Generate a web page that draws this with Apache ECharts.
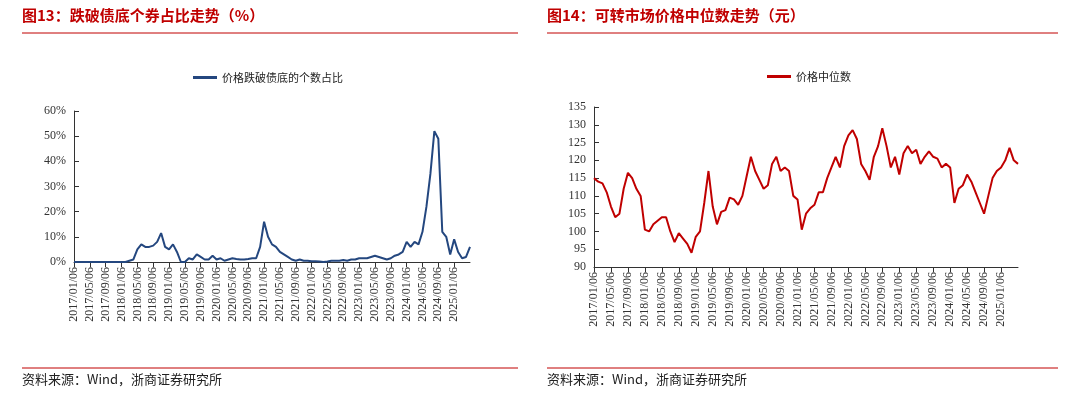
<!DOCTYPE html>
<html><head><meta charset="utf-8">
<script src="https://cdn.jsdelivr.net/npm/echarts@6/dist/echarts.min.js"></script>
<style>html,body{margin:0;padding:0;background:#fff}#c{width:1080px;height:418px}</style>
</head><body><div id="c"></div>
<script>
const leftTitle = "图13：跌破债底个券占比走势（%）";
const rightTitle = "图14：可转市场价格中位数走势（元）";
const source = "资料来源：Wind，浙商证券研究所";
const leftSeriesName = "价格跌破债底的个数占比";
const rightSeriesName = "价格中位数";
const leftTicks = [0, 10, 20, 30, 40, 50, 60];
const rightTicks = [90, 95, 100, 105, 110, 115, 120, 125, 130, 135];
const months = [];
for (let y = 2017; y <= 2025; y++) for (let m = 1; m <= 12; m++) {
  if (y === 2025 && m > 5) break;
  months.push(y + "/" + String(m).padStart(2, "0") + "/06");
}
const breakRatio = [
  0,0,0,0,0,0,0,0,0,0,0,0,
  0,0,0.5,1,5,7,6,6,6.5,8,11.5,6,
  5,7,4,0,0,1.5,1,3,2,1,1,2.5,
  1,1.5,0.5,1,1.5,1.2,1,1,1.2,1.5,1.5,6,
  16,10,7,6,4,3,2,1,0.5,1,0.5,0.5,
  0.3,0.3,0.2,0,0.2,0.5,0.5,0.5,0.8,0.5,1,1,
  1.5,1.5,1.5,2,2.5,2,1.5,1,1.5,2.5,3,4,
  8,6,8,7,12,22,35,52,49,12,10,3,
  9,4,1.5,2,6
];
const medianPrice = [
  115,114,113.5,111,107,104,105,112,116.5,115,112,110,
  100.5,100,102,103,104,104,100,97,99.5,98,96.5,94,
  98.5,100,108,117,107,102,105.5,106,109.5,109,107.5,110,
  115.5,121,117,114.5,112,113,119,121,117,118,117,110,
  109,100.5,105,106.5,107.5,111,111,115,118,121,118,124,
  127,128.5,126,119,117,114.5,121,124,129,124,118,121,
  116,122,124,122,123,119,121,122.5,121,120.5,118,119,
  118,108,112,113,116,114,111,108,105,110,115,117,
  118,120,123.5,120,119
];
const titleFont = '"Noto Sans CJK SC"';
const tickFont = '"Liberation Serif"';
const every4 = (i) => i % 4 === 0 && i < months.length - 1;
function xAxis(gi){return {type:'category',gridIndex:gi,data:months,boundaryGap:false,
  axisLine:{lineStyle:{color:'#333'}},axisTick:{interval:every4,lineStyle:{color:'#333'}},
  axisLabel:{interval:every4,rotate:90,fontFamily:tickFont,fontSize:12,color:'#333',margin:5}};}
const chart = echarts.init(document.getElementById('c'));
chart.setOption({
  animation:false,
  graphic:[
    {type:'text',left:22,top:8,style:{text:leftTitle,fontFamily:titleFont,fontSize:15,fontWeight:'bold',fill:'#c00000'}},
    {type:'text',left:547,top:8,style:{text:rightTitle,fontFamily:titleFont,fontSize:15,fontWeight:'bold',fill:'#c00000'}},
    {type:'line',shape:{x1:22,y1:33,x2:518,y2:33},style:{stroke:'#c00000',lineWidth:1}},
    {type:'line',shape:{x1:547,y1:33,x2:1058,y2:33},style:{stroke:'#c00000',lineWidth:1}},
    {type:'line',shape:{x1:22,y1:368,x2:518,y2:368},style:{stroke:'#c00000',lineWidth:1}},
    {type:'line',shape:{x1:547,y1:368,x2:1058,y2:368},style:{stroke:'#c00000',lineWidth:1}},
    {type:'text',left:22,top:373,style:{text:source,fontFamily:titleFont,fontSize:13,fill:'#222'}},
    {type:'text',left:547,top:373,style:{text:source,fontFamily:titleFont,fontSize:13,fill:'#222'}}
  ],
  legend:[
    {left:188,top:67,itemWidth:24,itemHeight:3,data:[leftSeriesName],textStyle:{fontFamily:titleFont,fontSize:11,color:'#222'},icon:'rect'},
    {left:762,top:66,itemWidth:24,itemHeight:3,data:[rightSeriesName],textStyle:{fontFamily:titleFont,fontSize:11,color:'#222'},icon:'rect'}
  ],
  grid:[
    {left:74,right:610,top:111,bottom:156},
    {left:594,right:62,top:107,bottom:151}
  ],
  xAxis:[xAxis(0),xAxis(1)],
  yAxis:[
    {type:'value',gridIndex:0,min:leftTicks[0],max:leftTicks[leftTicks.length-1],interval:10,
     splitLine:{show:false},axisLine:{show:true,lineStyle:{color:'#333'}},axisTick:{show:true,inside:true},
     axisLabel:{formatter:'{value}%',fontFamily:tickFont,fontSize:12,color:'#333'}},
    {type:'value',gridIndex:1,min:rightTicks[0],max:rightTicks[rightTicks.length-1],interval:5,
     splitLine:{show:false},axisLine:{show:true,lineStyle:{color:'#333'}},axisTick:{show:true,inside:true},
     axisLabel:{fontFamily:tickFont,fontSize:12,color:'#333'}}
  ],
  series:[
    {name:leftSeriesName,type:'line',xAxisIndex:0,yAxisIndex:0,data:breakRatio,showSymbol:false,
     lineStyle:{color:'#24477f',width:2},itemStyle:{color:'#24477f'}},
    {name:rightSeriesName,type:'line',xAxisIndex:1,yAxisIndex:1,data:medianPrice,showSymbol:false,
     lineStyle:{color:'#c00000',width:2},itemStyle:{color:'#c00000'}}
  ]
});
</script></body></html>
